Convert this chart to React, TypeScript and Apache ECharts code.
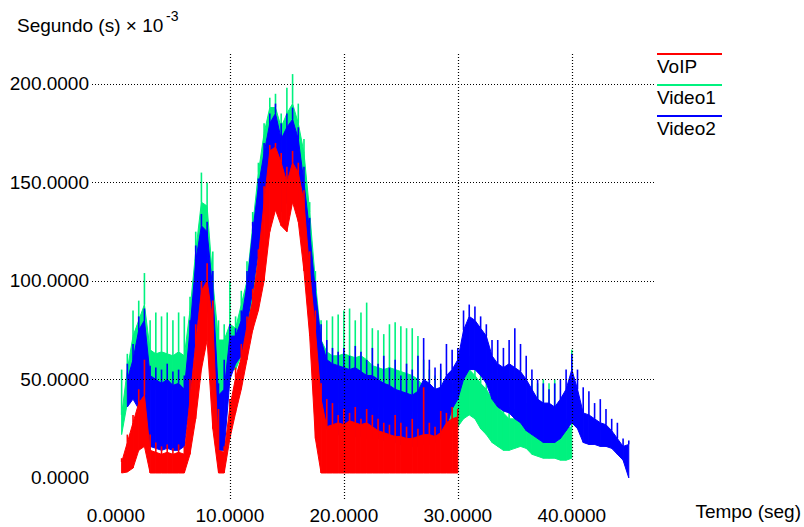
import React, { useEffect, useRef } from "react";
import * as echarts from "echarts";

// ---- data ----
// every series is sampled each 0.5 s; for each sample: lower edge of the noise band,
// upper edge of the dense band, and the top of the thin spike
const SAMPLE_STEP = 0.5;

const voipStart = 0.5;
const voipLo = [2.5, 3, 5, 14, 16, 2.5, 2.5, 2.5, 2.5, 2.5, 2.5, 2.5, 12, 30, 55, 70, 25, 2.5, 2.5, 20, 33, 45, 60, 75, 85, 100, 125, 136, 128, 125, 140, 130, 105, 72, 20, 2.5, 2.5, 2.5, 2.5, 2.5, 2.5, 2.5, 2.5, 2.5, 2.5, 2.5, 2.5, 2.5, 2.5, 2.5, 2.5, 2.5, 2.5, 2.5, 2.5, 2.5, 2.5, 2.5, 2.5, 2.5];
const voipTop = [8, 18, 28, 38, 42, 14, 13, 12, 13, 12, 13, 12, 40, 68, 95, 100, 80, 14, 13, 36, 51, 61, 77, 90, 112, 140, 166, 168, 160, 150, 160, 155, 140, 105, 75, 40, 26, 27, 28, 27, 29, 28, 27, 28, 26, 24, 23, 22, 21, 21, 20, 20, 21, 22, 22, 21, 23, 28, 30, 31];
const voipPeak = [10, 22, 32, 45, 60, 22, 18, 16, 17, 15, 17, 16, 50, 78, 100, 109, 90, 35, 16, 40, 56, 68, 82, 96, 116, 148, 169, 170, 165, 158, 166, 160, 146, 115, 85, 48, 40, 38, 32, 35, 33, 36, 30, 35, 32, 30, 28, 27, 32, 28, 26, 30, 25, 46, 28, 26, 34, 33, 36, 35];

const video1Start = 0.5;
const video1Lo = [22, 38, 45, 50, 55, 45, 45, 45, 45, 45, 45, 45, 55, 80, 105, 100, 60, 38, 40, 55, 55, 62, 75, 90, 115, 135, 150, 150, 150, 155, 150, 140, 120, 100, 70, 50, 40, 38, 38, 38, 38, 37, 37, 37, 36, 36, 36, 36, 35, 35, 35, 34, 33, 30, 30, 29, 28, 27, 25, 26, 30, 32, 30, 25, 22, 18, 16, 14, 14, 15, 16, 15, 12, 11, 10, 10, 10, 9, 9, 10];
const video1Top = [32, 55, 72, 80, 88, 65, 63, 64, 63, 62, 64, 62, 85, 115, 140, 138, 100, 70, 70, 78, 76, 88, 100, 128, 155, 175, 188, 188, 178, 185, 190, 180, 165, 135, 100, 70, 64, 62, 62, 63, 62, 61, 62, 60, 57, 56, 55, 56, 55, 54, 53, 52, 50, 46, 44, 42, 42, 40, 40, 44, 50, 55, 52, 48, 45, 40, 36, 33, 30, 30, 33, 30, 26, 24, 22, 22, 24, 24, 25, 26];
const video1Peak = [55, 63, 85, 90, 104, 80, 84, 82, 84, 80, 84, 82, 92, 125, 155, 150, 115, 80, 78, 100, 82, 95, 110, 135, 160, 180, 193, 195, 185, 198, 205, 190, 172, 140, 105, 80, 80, 82, 83, 85, 86, 80, 84, 89, 76, 75, 73, 78, 79, 77, 76, 76, 72, 60, 55, 52, 55, 50, 48, 50, 58, 62, 58, 55, 50, 45, 40, 38, 36, 35, 40, 38, 50, 48, 50, 48, 50, 30, 30, 65];

const video2Start = 1.0;
const video2Lo = [36, 40, 35, 30, 16, 15, 14, 15, 14, 14, 16, 40, 70, 95, 90, 45, 14, 14, 50, 58, 62, 78, 95, 115, 135, 150, 150, 135, 140, 145, 140, 115, 90, 60, 35, 25, 22, 22, 21, 22, 21, 21, 20, 20, 20, 19, 19, 18, 17, 17, 16, 16, 17, 17, 18, 20, 26, 35, 40, 50, 55, 55, 52, 48, 40, 36, 34, 33, 30, 28, 24, 22, 20, 18, 18, 18, 20, 24, 28, 25, 18, 17, 17, 16, 16, 15, 12, 9, 0];
const video2Top = [50, 60, 75, 80, 52, 50, 48, 50, 47, 48, 45, 75, 110, 128, 125, 95, 42, 45, 72, 72, 80, 98, 125, 148, 165, 180, 185, 172, 178, 182, 172, 150, 125, 95, 70, 60, 58, 57, 56, 55, 56, 54, 52, 52, 50, 48, 47, 45, 44, 43, 42, 44, 50, 48, 45, 46, 52, 55, 60, 75, 82, 80, 76, 72, 62, 58, 56, 58, 56, 54, 50, 45, 40, 38, 38, 36, 40, 45, 55, 45, 33, 32, 30, 28, 27, 24, 20, 16, 17];
const video2Peak = [58, 68, 82, 86, 57, 56, 55, 58, 54, 55, 52, 80, 118, 134, 130, 105, 48, 60, 78, 76, 85, 105, 130, 152, 170, 185, 190, 180, 185, 188, 178, 158, 132, 100, 78, 70, 66, 64, 66, 62, 67, 64, 60, 66, 58, 62, 56, 60, 52, 58, 55, 62, 71, 60, 56, 58, 68, 65, 66, 85, 88, 87, 82, 78, 70, 70, 66, 70, 76, 68, 62, 55, 50, 48, 45, 48, 50, 55, 63, 55, 46, 44, 38, 40, 35, 30, 28, 20, 19];

const xTickValues = [0, 10, 20, 30, 40];
const yTickValues = [0, 50, 100, 150, 200];
const xGridValues = [10, 20, 30, 40];
const yGridValues = [50, 100, 150, 200];

const seriesNames = ["VoIP", "Video1", "Video2"];
const seriesColors = ["#ff0000", "#00f27f", "#0000ff"];

const FONT = "'Liberation Sans', Arial, sans-serif";

function buildRows(start: number, lo: number[], top: number[], peak: number[]) {
  return lo.map((l, i) => [start + i * SAMPLE_STEP, l, top[i], peak[i]]);
}

function bandRenderer(color: string) {
  return (params: any, api: any) => {
    const i = params.dataIndexInside;
    const t = api.value(0);
    const lo = api.value(1);
    const top = api.value(2);
    const pk = api.value(3);
    const children: any[] = [];
    if (i > 0) {
      const pt = api.value(0, i - 1);
      const plo = api.value(1, i - 1);
      const ptop = api.value(2, i - 1);
      children.push({
        type: "polygon",
        shape: {
          points: [api.coord([pt, ptop]), api.coord([t, top]), api.coord([t, lo]), api.coord([pt, plo])],
        },
        style: { fill: color, stroke: color, lineWidth: 1 },
      });
    }
    const a = api.coord([t, top]);
    const b = api.coord([t, pk]);
    children.push({
      type: "line",
      shape: { x1: a[0], y1: a[1], x2: b[0], y2: b[1] },
      style: { stroke: color, lineWidth: 1.6 },
    });
    return { type: "group", children };
  };
}

export default function App() {
  const ref = useRef<HTMLDivElement>(null);

  useEffect(() => {
    if (!ref.current) return;
    const chart = echarts.init(ref.current, undefined, { renderer: "svg" });

    const rows = [
      buildRows(voipStart, voipLo, voipTop, voipPeak),
      buildRows(video1Start, video1Lo, video1Top, video1Peak),
      buildRows(video2Start, video2Lo, video2Top, video2Peak),
    ];
    // drawing order: Video1 behind, Video2, VoIP in front
    const order = [1, 2, 0];

    const dataSeries = order.map((k, z) => ({
      type: "custom",
      name: seriesNames[k],
      data: rows[k],
      encode: { x: 0, y: [1, 2, 3] },
      renderItem: bandRenderer(seriesColors[k]),
      clip: true,
      z: 2 + z,
      silent: true,
    }));

    const gridStyle = { color: "#000", type: [1, 2] as any, width: 1.2 };

    const legendX = 657;
    const legendLineY = [54, 85, 116];
    const legendGraphics: any[] = [];
    seriesNames.forEach((n, i) => {
      legendGraphics.push({
        type: "line",
        shape: { x1: legendX, y1: legendLineY[i], x2: legendX + 65, y2: legendLineY[i] },
        style: { stroke: seriesColors[i], lineWidth: 2 },
      });
      legendGraphics.push({
        type: "text",
        x: legendX,
        y: legendLineY[i] + 12,
        style: { text: n, fontSize: 19, fontFamily: FONT, fill: "#000", textVerticalAlign: "middle" },
      });
    });

    chart.setOption({
      animation: false,
      backgroundColor: "#ffffff",
      grid: { left: 92, right: 149, top: 53, bottom: 28 },
      xAxis: {
        type: "value",
        min: -2.1,
        max: 47.3,
        axisLine: { show: false },
        axisTick: { show: false },
        splitLine: { show: false },
        axisLabel: {
          customValues: xTickValues,
          formatter: (v: number) => v.toFixed(4),
          fontSize: 19,
          fontFamily: FONT,
          color: "#000",
          margin: 7,
        },
      },
      yAxis: {
        type: "value",
        min: -10.7,
        max: 215.7,
        axisLine: { show: false },
        axisTick: { show: false },
        splitLine: { show: false },
        axisLabel: {
          customValues: yTickValues,
          formatter: (v: number) => v.toFixed(4),
          fontSize: 19,
          fontFamily: FONT,
          color: "#000",
          margin: 3,
        },
      },
      series: [
        ...dataSeries,
        {
          type: "line",
          data: [],
          z: 10,
          silent: true,
          markLine: {
            silent: true,
            symbol: ["none", "none"],
            label: { show: false },
            lineStyle: gridStyle,
            data: [
              ...xGridValues.map((v) => ({ xAxis: v })),
              ...yGridValues.map((v) => ({ yAxis: v })),
            ],
          },
        },
      ],
      graphic: [
        {
          type: "text",
          x: 17,
          y: 16,
          style: { text: "Segundo (s) × 10", fontSize: 19, fontFamily: FONT, fill: "#000" },
        },
        {
          type: "text",
          x: 166,
          y: 9,
          style: { text: "-3", fontSize: 14, fontFamily: FONT, fill: "#000" },
        },
        {
          type: "text",
          x: 801,
          y: 511,
          style: {
            text: "Tempo (seg)",
            fontSize: 19,
            fontFamily: FONT,
            fill: "#000",
            textAlign: "right",
            textVerticalAlign: "middle",
          },
        },
        ...legendGraphics,
      ],
    });

    return () => chart.dispose();
  }, []);

  return (
    <div
      ref={ref}
      style={{ position: "fixed", left: 0, top: 0, width: 804, height: 527, background: "#fff" }}
    />
  );
}
